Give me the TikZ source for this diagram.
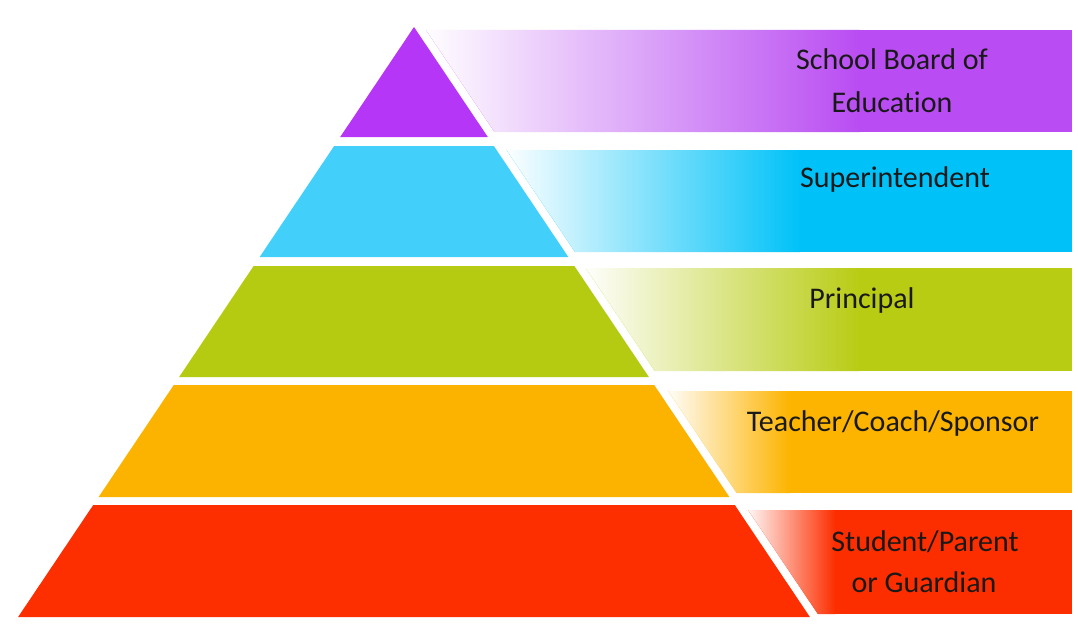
\documentclass[tikz,border=0pt]{standalone}
\usepackage{fontspec}
\setmainfont[Ligatures=NoCommon]{Carlito}
\begin{document}
\begin{tikzpicture}[x=1pt,y=-1pt,
  lbl/.style={anchor=base,inner sep=0pt,text=black!90,font=\fontsize{30}{36}\selectfont}]
\definecolor{cPur}{RGB}{181,54,247}
\definecolor{cBlu}{RGB}{66,207,250}
\definecolor{cGrn}{RGB}{181,203,18}
\definecolor{cOrg}{RGB}{252,179,0}
\definecolor{cRed}{RGB}{253,46,0}
\definecolor{bPur}{RGB}{185,76,242}
\definecolor{bBlu}{RGB}{0,194,248}
\definecolor{bGrn}{RGB}{184,204,20}
\definecolor{bOrg}{RGB}{253,180,0}
\definecolor{bRed}{RGB}{252,46,0}
\useasboundingbox[fill=white] (0,0) rectangle (1078,634);
% half width of pyramid at height y: 0.671*(y-27)
\def\hw#1{0.671*(#1-27)}
% bars: #1 top, #2 bottom, #3 colour, #4 x where full colour
\newcommand{\mybar}[4]{%
  \begin{scope}
    \clip ({414+\hw{#1}+10},#1) -- (1072,#1) -- (1072,#2) -- ({414+\hw{#2}+10},#2) -- cycle;
    \fill[#3] (400,#1) rectangle (1072,#2);
    \shade[left color=white,right color=#3] ({414+\hw{#1}+6},#1) rectangle (#4,#2);
  \end{scope}}
\mybar{30}{132}{bPur}{860}
\mybar{150}{252}{bBlu}{800}
\mybar{268}{371}{bGrn}{860}
\mybar{391}{493}{bOrg}{790}
\mybar{510}{614}{bRed}{835}
% pyramid tiers
\newcommand{\tier}[3]{%
  \fill[#3] ({414-\hw{#1}},#1) -- ({414+\hw{#1}},#1) -- ({414+\hw{#2}},#2) -- ({414-\hw{#2}},#2) -- cycle;}
\fill[cPur] (414,27) -- ({414+\hw{137}},137) -- ({414-\hw{137}},137) -- cycle;
\tier{146}{257}{cBlu}
\tier{266}{377}{cGrn}
\tier{385}{497}{cOrg}
\tier{505}{617}{cRed}
% labels
\node[lbl] (l1a) at (892,70) {School Board of};
\node[lbl] (l1b) at (892,112) {Education};
\node[lbl] (l2) at (895,187) {Superintendent};
\node[lbl] (l3) at (862,308) {Principal};
\node[lbl] (l4) at (893,431) {Teacher/Coach/Sponsor};
\node[lbl] (l5a) at (925,551) {Student/Parent};
\node[lbl] (l5b) at (924,592) {or Guardian};
\end{tikzpicture}
\end{document}
